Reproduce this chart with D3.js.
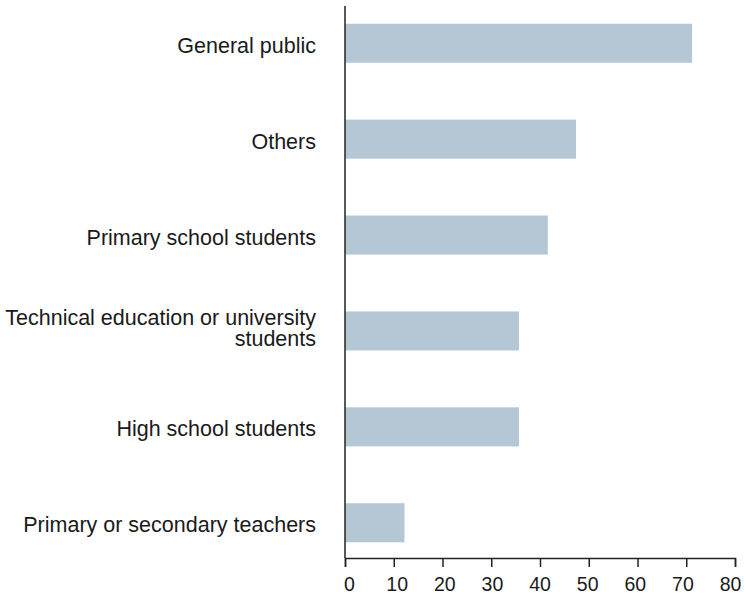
<!DOCTYPE html>
<html>
<head>
<meta charset="utf-8">
<script src="https://cdn.jsdelivr.net/npm/d3@7"></script>
<style>
  body { margin: 0; background: #fff; }
  text { font-family: "Liberation Sans", Arial, Helvetica, sans-serif; fill: #1a1a1a; }
</style>
</head>
<body>
<svg width="746" height="599"></svg>
<script>
const categories = [
  "General public",
  "Others",
  "Primary school students",
  "Technical education or university students",
  "High school students",
  "Primary or secondary teachers"
];
const values = [71.2, 47.4, 41.6, 35.7, 35.7, 12.2];
const xTicks = [0, 10, 20, 30, 40, 50, 60, 70, 80];

const svg = d3.select("svg");
const data = categories.map((c, i) => ({category: c, value: values[i]}));

const margin = {top: 8, right: 11, left: 345, bottom: 41};
const width = +svg.attr("width");
const height = +svg.attr("height");
const innerWidth = width - margin.left - margin.right;
const innerHeight = height - margin.top - margin.bottom;

const xScale = d3.scaleLinear()
  .domain([0, 80])
  .range([0, innerWidth]);

const yScale = d3.scaleBand()
  .domain(categories)
  .range([0, innerHeight])
  .paddingInner(0.593)
  .paddingOuter(0.164);

const g = svg.append("g")
  .attr("transform", `translate(${margin.left}, ${margin.top})`);

// bars
g.selectAll("rect").data(data)
  .enter().append("rect")
    .attr("x", 0)
    .attr("y", d => yScale(d.category))
    .attr("width", d => xScale(d.value))
    .attr("height", yScale.bandwidth())
    .attr("fill", "#b5c7d4");

// x axis; labels sit slightly inward from the ends as in the original
const xAxis = g.append("g")
  .attr("transform", `translate(0, ${innerHeight})`)
  .call(d3.axisBottom(xScale).tickValues(xTicks).tickSize(9).tickPadding(10));
xAxis.select(".domain").attr("stroke", "#222").attr("stroke-width", 1.5);
xAxis.selectAll(".tick line").attr("stroke", "#222").attr("stroke-width", 1.5);
xAxis.selectAll("text")
  .style("font-size", "19.5px")
  .attr("fill", "#1a1a1a")
  .attr("dx", d => 4 - d * 0.1125);

// y axis line (no ticks)
g.append("line")
  .attr("x1", 0).attr("x2", 0)
  .attr("y1", -2).attr("y2", innerHeight)
  .attr("stroke", "#222")
  .attr("stroke-width", 1.5);

// category labels, wrapped where needed
const wrapWidth = 315;
g.selectAll(".cat-label").data(categories)
  .enter().append("text")
    .attr("class", "cat-label")
    .attr("text-anchor", "end")
    .style("font-size", "21.5px")
    .each(function(d) {
      const el = d3.select(this);
      const words = d.split(" ");
      const lines = [];
      let line = [];
      const probe = el.append("tspan");
      words.forEach(w => {
        line.push(w);
        probe.text(line.join(" "));
        if (probe.node().getComputedTextLength() > wrapWidth && line.length > 1) {
          line.pop();
          lines.push(line.join(" "));
          line = [w];
        }
      });
      lines.push(line.join(" "));
      probe.remove();
      const lineH = 21;
      const n = lines.length;
      const cy = yScale(d) + yScale.bandwidth() / 2;
      lines.forEach((l, i) => {
        el.append("tspan")
          .attr("x", -29)
          .attr("y", cy + (i - (n - 1) / 2) * lineH - (n - 1) * 4.5)
          .attr("dy", "0.44em")
          .text(l);
      });
    });
</script>
</body>
</html>
